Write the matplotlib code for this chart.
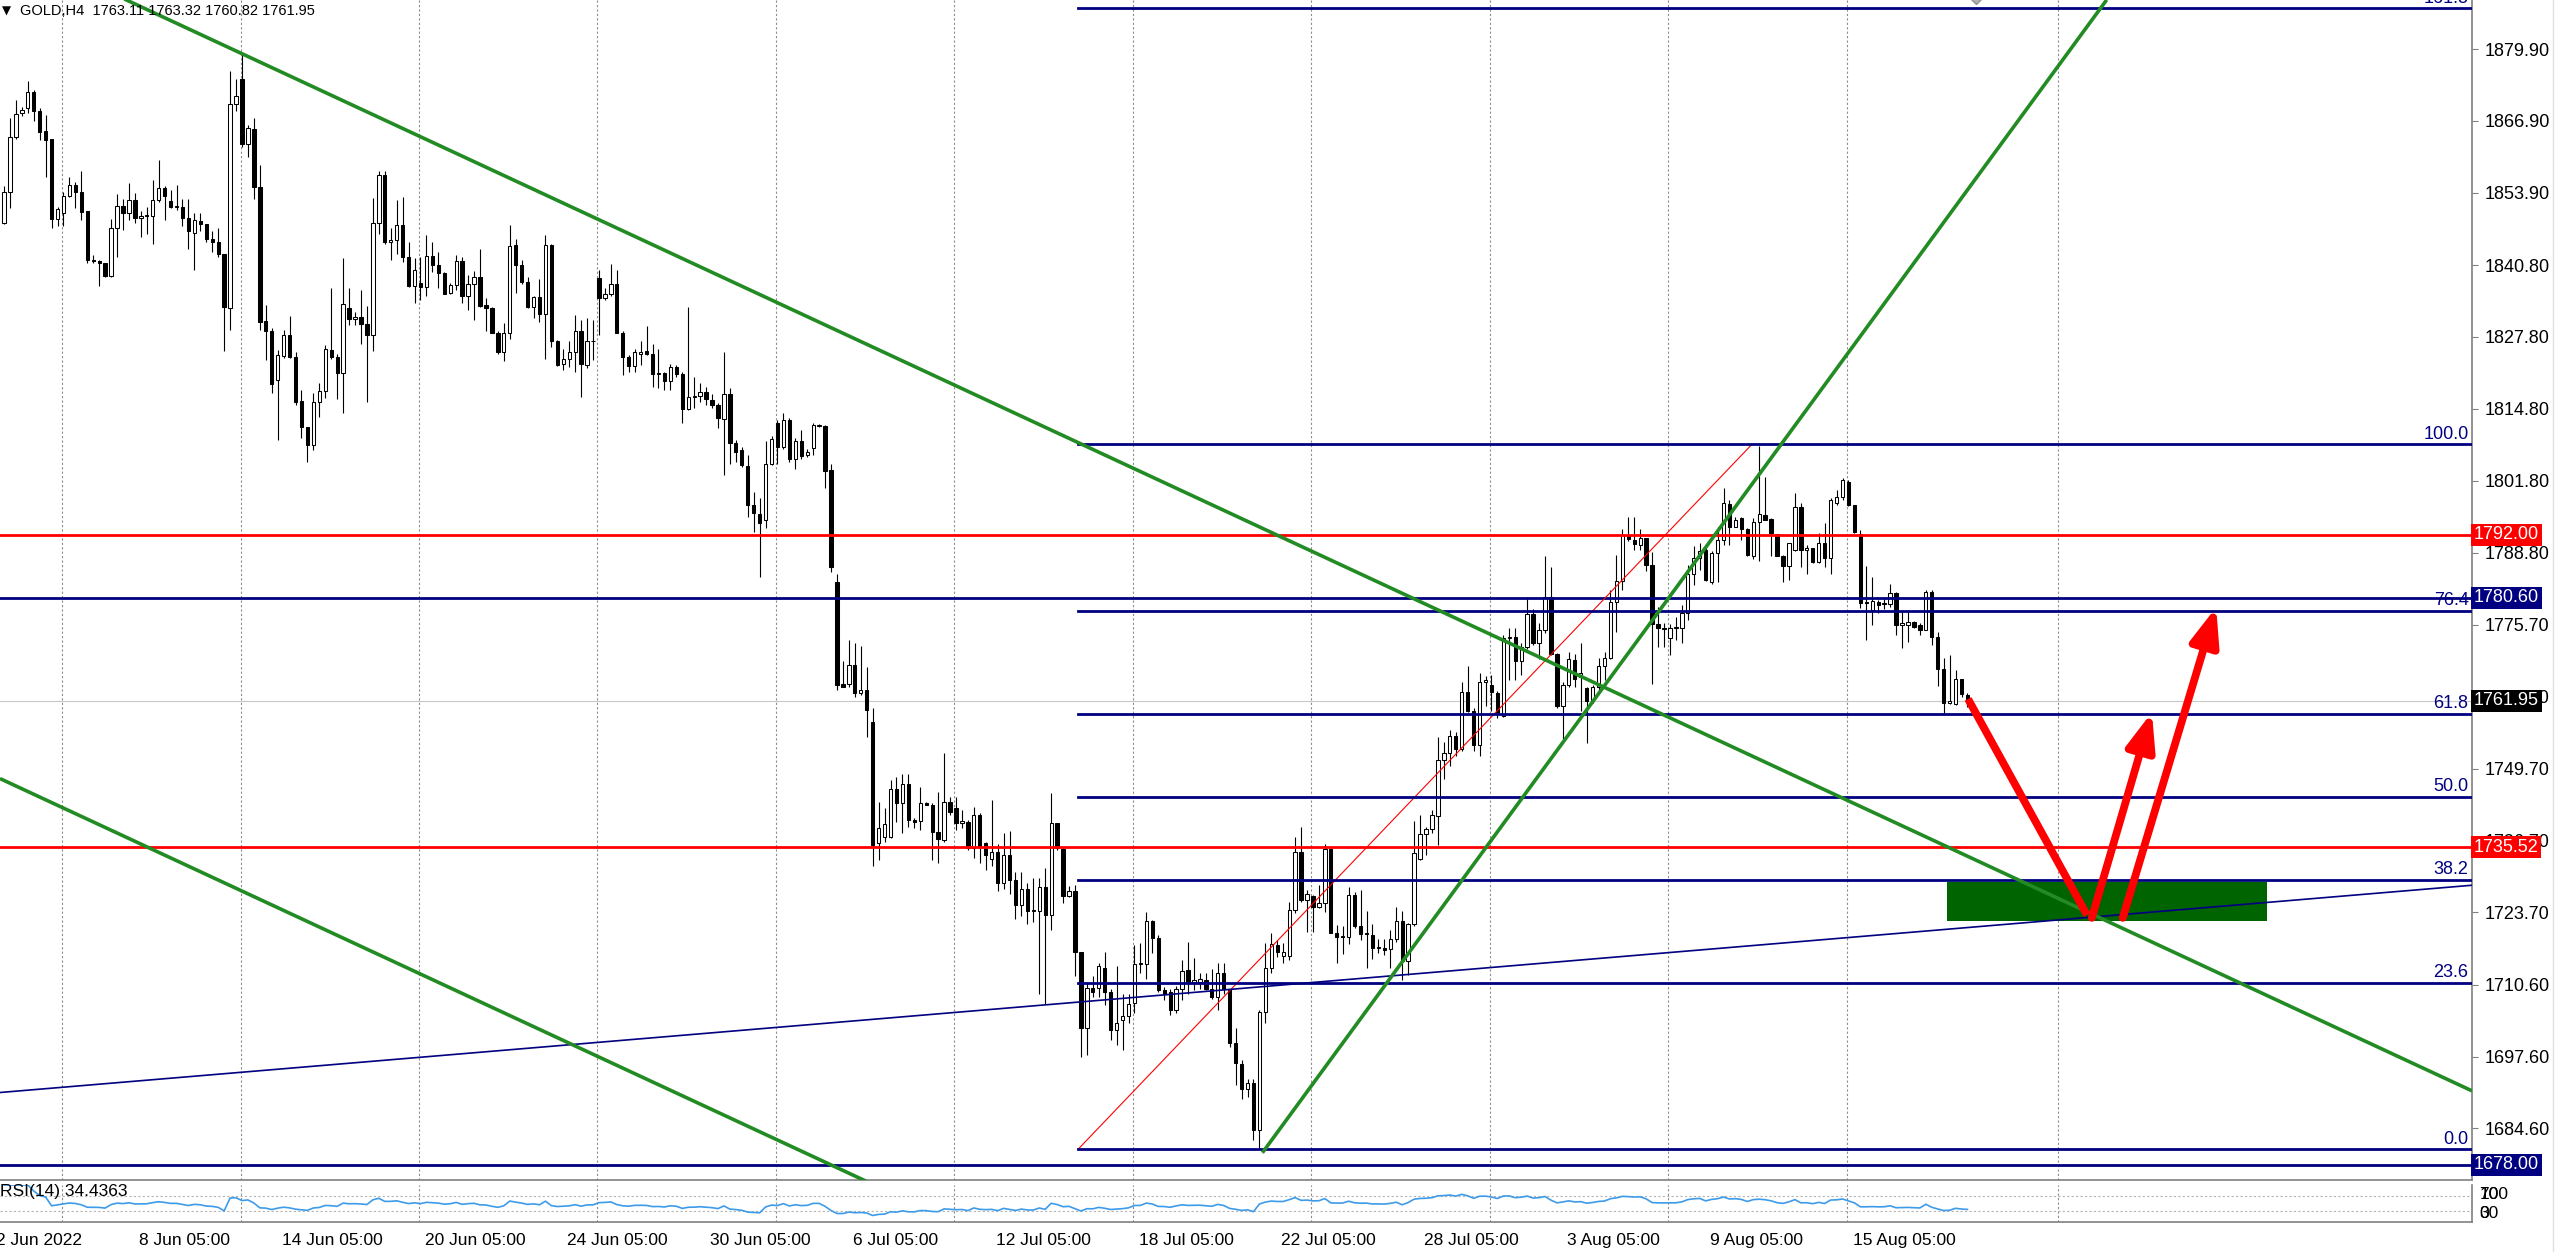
import numpy as np
import matplotlib.pyplot as plt
from matplotlib.patches import Rectangle, FancyArrowPatch, ArrowStyle
from matplotlib.transforms import blended_transform_factory

plt.rcParams['font.family'] = ['Liberation Sans', 'DejaVu Sans']

# GOLD H4 candles (bar 0 = leftmost visible bar)
opens = [
    1848.4, 1854.1, 1864.0, 1868.4, 1869.2, 1872.1, 1868.6, 1865.1, 1863.7, 1849.1,
    1850.3, 1853.3, 1855.3, 1854.1, 1850.6, 1841.8, 1841.6, 1841.1, 1838.8, 1847.5,
    1851.5, 1850.3, 1852.5, 1849.3, 1849.6, 1849.6, 1852.6, 1854.8, 1852.4, 1851.3,
    1851.4, 1849.3, 1846.7, 1848.8, 1848.2, 1845.5, 1845.0, 1842.9, 1833.0, 1870.0,
    1874.4, 1862.7, 1865.5, 1855.0, 1830.7, 1828.8, 1820.0, 1824.4, 1828.1, 1824.1,
    1816.3, 1811.6, 1808.2, 1816.1, 1818.1, 1825.4, 1824.1, 1821.2, 1833.0,
    1831.0, 1831.5, 1830.2, 1828.2, 1848.4, 1857.1, 1845.0, 1845.3, 1848.1, 1842.3,
    1837.0, 1837.6, 1836.9, 1842.4, 1840.8, 1839.4, 1835.7, 1837.2, 1841.6, 1835.2,
    1837.4, 1838.6, 1833.6, 1833.0, 1828.6, 1825.0, 1828.6, 1844.5, 1840.8, 1837.8,
    1833.2, 1835.0, 1832.0, 1844.4, 1827.0, 1823.0, 1823.9, 1825.0, 1828.9, 1822.8,
    1827.0, 1838.4, 1834.8, 1835.6, 1837.4, 1828.6, 1824.1, 1822.6, 1824.7, 1825.3,
    1824.7, 1821.1, 1821.3, 1819.9, 1822.3, 1821.1, 1814.7, 1816.9, 1817.1, 1817.9,
    1816.4, 1815.5, 1812.9, 1817.5, 1808.6, 1807.3, 1804.4, 1797.4, 1795.8, 1794.7,
    1804.9, 1812.2, 1807.9, 1812.7, 1805.8, 1808.9, 1806.4, 1807.8, 1811.7, 1811.7,
    1803.7, 1783.5, 1765.1, 1765.1, 1768.4, 1763.3, 1763.9, 1758.2, 1736.2, 1737.4,
    1737.3, 1746.1, 1743.4, 1747.0, 1740.4, 1740.3, 1743.4, 1743.1, 1738.3, 1736.7,
    1743.7, 1742.5, 1739.8, 1740.1, 1735.3, 1741.3, 1736.2, 1733.3,
    1734.7, 1729.0, 1734.0, 1729.5, 1725.0, 1728.0, 1724.0, 1724.0,
    1728.2, 1723.2, 1739.8, 1735.1, 1726.6, 1727.6, 1716.6, 1702.7, 1710.0, 1710.0,
    1713.7, 1709.3, 1702.5, 1704.2, 1704.9, 1707.3, 1714.3, 1714.3, 1722.2, 1719.0,
    1709.6, 1709.3, 1706.0, 1709.9, 1713.3, 1711.1, 1711.1, 1711.4, 1709.9, 1708.3,
    1712.8, 1709.8, 1700.0, 1696.3, 1691.8, 1692.9, 1684.4, 1705.7, 1713.6, 1717.7,
    1715.8, 1715.8, 1724.1, 1734.7, 1726.0, 1726.6, 1724.6, 1725.3, 1735.1, 1720.0,
    1719.2, 1719.2, 1726.9, 1721.3, 1719.8, 1719.6, 1717.2, 1717.2, 1717.0, 1718.9,
    1722.1, 1714.9, 1721.5, 1733.4, 1737.9, 1738.8, 1741.2, 1751.2, 1752.5, 1755.6,
    1753.3, 1763.6, 1760.2, 1753.9, 1765.3, 1764.9, 1763.3, 1759.3, 1773.4, 1773.6,
    1769.1, 1771.7, 1777.7, 1772.5, 1774.7, 1780.7, 1770.4, 1761.0, 1764.9, 1769.3,
    1766.2, 1764.2, 1761.9, 1764.4, 1768.3, 1769.8, 1779.8, 1783.6, 1792.0, 1791.1,
    1790.1, 1791.5, 1786.6, 1775.9, 1775.1, 1773.4,
    1775.1, 1775.1, 1777.9, 1784.9, 1787.8, 1789.3, 1783.5, 1788.7, 1791.1, 1797.6,
    1793.5, 1795.0, 1793.0, 1788.2, 1794.4, 1795.6, 1794.8, 1792.2, 1788.2, 1786.4,
    1789.3, 1797.1, 1789.3, 1789.6, 1787.1, 1790.6, 1787.8, 1797.8, 1798.9, 1801.6,
    1797.4, 1792.2, 1779.9, 1778.4, 1779.9, 1779.7, 1779.5, 1781.5, 1775.7, 1775.7,
    1776.3, 1775.7, 1774.8, 1781.7, 1773.6, 1767.8, 1761.5, 1761.4, 1765.9, 1763.11,
]
highs = [
    1855.2, 1867.4, 1870.6, 1869.5, 1874.2, 1872.5, 1869.2, 1868.0, 1863.7, 1851.4,
    1854.1, 1856.8, 1855.9, 1857.9, 1850.6, 1842.6, 1841.7, 1841.2, 1849.1, 1853.7,
    1852.7, 1855.6, 1853.9, 1850.6, 1851.4, 1856.2, 1859.8, 1855.2, 1854.4, 1855.3,
    1852.7, 1852.7, 1850.2, 1850.3, 1848.2, 1846.9, 1847.6, 1842.9, 1876.0, 1874.4,
    1879.1, 1866.1, 1867.4, 1858.9, 1833.6, 1829.4, 1825.4, 1829.1, 1831.6, 1825.1,
    1818.2, 1811.6, 1817.7, 1819.4, 1826.3, 1836.6, 1824.8, 1842.0, 1836.6,
    1832.4, 1836.3, 1833.4, 1852.9, 1857.8, 1857.8, 1847.5, 1852.6, 1853.2, 1845.0,
    1842.0, 1842.3, 1846.3, 1845.0, 1843.2, 1839.6, 1837.5, 1842.6, 1842.3, 1839.0,
    1839.8, 1843.7, 1834.8, 1833.3, 1828.8, 1830.4, 1848.1, 1845.5, 1841.7, 1838.6,
    1835.2, 1838.2, 1846.3, 1844.7, 1827.3, 1825.6, 1827.0, 1831.8, 1830.9, 1831.2,
    1830.9, 1839.9, 1836.6, 1841.0, 1840.0, 1828.8, 1824.5, 1825.6, 1827.0, 1829.7,
    1826.6, 1825.6, 1821.5, 1822.9, 1822.7, 1821.5, 1833.2, 1820.6, 1819.5, 1818.8,
    1817.5, 1815.9, 1825.0, 1818.5, 1809.2, 1807.9, 1806.4, 1799.8, 1798.6, 1808.9,
    1809.8, 1812.8, 1814.1, 1813.1, 1809.5, 1811.0, 1807.6, 1812.3, 1812.0, 1811.9,
    1804.9, 1785.0, 1769.1, 1773.0, 1772.5, 1771.8, 1768.1, 1760.6, 1743.7, 1742.5,
    1747.6, 1748.2, 1748.8, 1748.8, 1740.7, 1746.4, 1743.7, 1743.4, 1745.5, 1752.5,
    1744.6, 1744.6, 1742.2, 1740.4, 1742.8, 1741.6, 1736.5, 1744.0,
    1736.0, 1738.0, 1738.5, 1731.0, 1731.0, 1729.0, 1730.0, 1730.0,
    1731.8, 1745.3, 1739.8, 1735.3, 1728.5, 1728.6, 1716.6, 1711.1, 1712.1, 1714.5,
    1716.6, 1709.9, 1714.0, 1709.0, 1709.0, 1717.8, 1718.1, 1723.8, 1722.3, 1719.6,
    1710.2, 1709.9, 1710.4, 1715.1, 1718.4, 1715.4, 1712.8, 1712.8, 1713.4, 1714.6,
    1714.6, 1709.6, 1702.7, 1697.0, 1693.6, 1693.6, 1706.0, 1718.1, 1720.0, 1718.7,
    1718.1, 1725.6, 1737.4, 1739.2, 1727.7, 1726.8, 1728.6, 1736.1, 1735.3, 1721.4,
    1721.3, 1728.3, 1727.3, 1727.7, 1723.9, 1721.5, 1718.9, 1718.9, 1720.5, 1724.7,
    1723.9, 1721.7, 1740.3, 1741.4, 1739.2, 1742.2, 1755.5, 1754.6, 1756.7, 1756.3,
    1765.3, 1768.3, 1760.6, 1767.0, 1766.4, 1766.6, 1763.8, 1773.8, 1775.1, 1775.1,
    1772.5, 1780.7, 1778.5, 1776.0, 1788.1, 1786.2, 1770.6, 1765.3, 1770.8, 1770.4,
    1772.5, 1764.4, 1764.9, 1769.8, 1770.8, 1782.1, 1788.3, 1793.0, 1795.2, 1795.2,
    1793.0, 1791.5, 1788.9, 1778.9, 1776.0, 1775.8,
    1777.2, 1779.3, 1786.5, 1790.0, 1790.5, 1789.9, 1789.0, 1793.5, 1800.4, 1798.3,
    1795.3, 1795.2, 1793.2, 1795.0, 1808.0, 1802.5, 1795.0, 1792.2, 1788.4, 1790.6,
    1799.5, 1797.8, 1790.2, 1789.7, 1792.3, 1794.1, 1798.6, 1800.1, 1802.2, 1801.9,
    1797.4, 1792.9, 1786.4, 1784.4, 1780.2, 1780.5, 1783.1, 1781.7, 1778.1, 1778.4,
    1776.5, 1776.0, 1782.1, 1782.1, 1774.5, 1769.8, 1770.3, 1767.6, 1766.0, 1763.32,
]
lows = [
    1848.2, 1851.1, 1863.6, 1867.7, 1868.4, 1866.9, 1863.4, 1856.8, 1847.5, 1847.8,
    1847.8, 1853.2, 1851.1, 1849.0, 1841.1, 1841.1, 1837.0, 1838.7, 1838.6, 1842.3,
    1847.2, 1849.0, 1848.4, 1845.9, 1846.5, 1844.7, 1852.3, 1849.0, 1851.1, 1850.8,
    1847.8, 1843.8, 1840.0, 1846.9, 1845.0, 1843.2, 1842.3, 1825.2, 1829.1, 1868.7,
    1862.2, 1860.4, 1852.7, 1829.1, 1823.6, 1817.7, 1809.1, 1824.0, 1824.0, 1815.5,
    1809.5, 1805.2, 1807.4, 1813.4, 1816.7, 1823.9, 1816.5, 1814.0, 1830.0,
    1830.0, 1826.5, 1816.1, 1825.3, 1846.5, 1844.6, 1841.7, 1842.9, 1841.4, 1836.9,
    1833.9, 1834.5, 1835.2, 1839.6, 1836.6, 1835.6, 1835.6, 1836.3, 1833.9, 1832.7,
    1830.9, 1833.3, 1828.8, 1828.5, 1824.7, 1823.5, 1827.4, 1835.7, 1837.4, 1833.0,
    1831.2, 1830.6, 1823.9, 1826.0, 1822.5, 1821.8, 1822.4, 1821.5, 1817.0, 1822.1,
    1823.6, 1828.2, 1834.5, 1835.2, 1828.5, 1820.9, 1821.5, 1821.5, 1822.7, 1824.5,
    1818.8, 1818.5, 1818.2, 1818.2, 1820.6, 1812.2, 1814.6, 1814.9, 1816.0, 1815.5,
    1814.9, 1811.3, 1802.8, 1804.9, 1805.2, 1804.3, 1795.3, 1792.6, 1784.4, 1793.2,
    1804.6, 1804.9, 1807.6, 1805.2, 1804.0, 1805.8, 1806.0, 1806.4, 1811.6, 1800.4,
    1785.3, 1763.9, 1764.5, 1764.5, 1762.7, 1763.0, 1755.5, 1732.1, 1733.2, 1736.5,
    1737.1, 1740.1, 1738.0, 1739.2, 1738.9, 1738.6, 1743.1, 1733.2, 1732.6, 1736.5,
    1741.3, 1738.6, 1738.9, 1735.0, 1733.5, 1732.6, 1731.4, 1732.0,
    1727.5, 1728.0, 1727.0, 1722.5, 1723.0, 1721.5, 1722.0, 1709.0,
    1707.2, 1720.5, 1735.0, 1725.3, 1726.5, 1712.1, 1697.6, 1697.9, 1708.4, 1708.4,
    1706.9, 1700.6, 1699.7, 1698.8, 1703.6, 1705.4, 1712.7, 1711.7, 1716.3, 1709.3,
    1707.8, 1705.1, 1705.4, 1707.8, 1709.0, 1709.6, 1709.9, 1709.6, 1708.1, 1706.0,
    1709.0, 1699.4, 1692.4, 1690.0, 1690.3, 1682.5, 1681.0, 1703.6, 1712.7, 1715.7,
    1714.6, 1715.1, 1723.5, 1725.6, 1720.2, 1720.2, 1724.4, 1723.8, 1719.9, 1714.6,
    1716.2, 1717.9, 1720.9, 1718.7, 1713.6, 1715.3, 1716.4, 1716.0, 1713.6, 1718.3,
    1711.5, 1712.3, 1721.3, 1733.1, 1734.1, 1738.0, 1735.8, 1747.9, 1750.2, 1752.0,
    1752.9, 1759.9, 1752.9, 1752.0, 1761.0, 1760.2, 1758.9, 1759.1, 1765.7, 1765.7,
    1766.7, 1771.3, 1772.1, 1769.6, 1774.3, 1770.2, 1760.6, 1755.0, 1764.4, 1764.4,
    1760.2, 1754.4, 1761.5, 1763.8, 1765.7, 1769.6, 1774.4, 1782.1, 1790.9, 1789.2,
    1789.2, 1785.4, 1765.0, 1771.7, 1771.7, 1770.2,
    1773.0, 1772.4, 1776.6, 1782.9, 1785.6, 1783.7, 1783.1, 1783.5, 1790.2, 1790.2,
    1793.5, 1791.1, 1788.2, 1787.6, 1787.2, 1794.6, 1788.2, 1788.1, 1783.5, 1783.8,
    1789.0, 1786.2, 1785.0, 1786.9, 1786.9, 1786.2, 1785.0, 1797.4, 1798.3, 1797.2,
    1792.3, 1778.7, 1773.0, 1775.7, 1777.8, 1778.5, 1779.0, 1773.9, 1771.5, 1772.7,
    1775.1, 1773.9, 1774.7, 1772.1, 1764.6, 1759.7, 1761.4, 1761.2, 1762.7, 1760.82,
]
closes = [
    1854.1, 1864.0, 1868.1, 1868.9, 1872.1, 1868.6, 1864.9, 1863.4, 1849.1, 1850.9,
    1853.3, 1855.3, 1854.1, 1850.5, 1841.8, 1841.6, 1841.2, 1838.8, 1847.5, 1851.5,
    1850.3, 1852.5, 1849.3, 1849.6, 1849.8, 1852.6, 1854.7, 1853.3, 1851.3, 1851.4,
    1849.3, 1846.9, 1849.0, 1848.2, 1845.5, 1844.9, 1842.9, 1833.3, 1870.0, 1871.4,
    1862.7, 1865.7, 1855.0, 1830.6, 1828.8, 1819.3, 1824.5, 1828.1, 1824.2, 1816.1,
    1811.6, 1808.2, 1816.1, 1818.1, 1825.6, 1824.1, 1821.2, 1833.8, 1831.0,
    1831.5, 1830.2, 1828.2, 1848.4, 1857.1, 1845.0, 1845.3, 1848.1, 1842.3, 1837.0,
    1840.0, 1836.9, 1842.4, 1840.8, 1839.4, 1835.6, 1837.2, 1841.6, 1835.2, 1837.4,
    1838.6, 1833.4, 1833.0, 1828.6, 1825.0, 1828.6, 1844.3, 1840.8, 1837.8, 1833.2,
    1835.0, 1832.0, 1844.4, 1827.0, 1822.7, 1823.9, 1825.0, 1828.9, 1822.9, 1827.0,
    1827.1, 1834.8, 1835.6, 1837.4, 1828.6, 1824.1, 1822.6, 1825.0, 1825.1, 1824.7,
    1821.1, 1821.3, 1819.9, 1822.3, 1821.1, 1814.7, 1816.9, 1817.1, 1817.9, 1816.6,
    1815.5, 1813.1, 1817.5, 1808.6, 1807.0, 1804.6, 1797.4, 1795.9, 1794.2, 1804.9,
    1809.3, 1807.9, 1812.7, 1805.8, 1808.9, 1806.3, 1807.0, 1811.9, 1811.8, 1803.6,
    1786.2, 1764.8, 1764.5, 1768.4, 1763.3, 1763.9, 1760.3, 1735.9, 1738.9, 1739.7,
    1746.1, 1743.4, 1747.0, 1740.4, 1740.1, 1743.4, 1743.2, 1738.3, 1736.9, 1743.7,
    1741.9, 1739.8, 1740.3, 1735.3, 1741.3, 1735.6, 1734.1, 1734.7,
    1729.0, 1734.0, 1729.5, 1725.0, 1728.0, 1724.0, 1724.0, 1728.2,
    1723.2, 1739.8, 1735.3, 1726.6, 1727.6, 1716.6, 1702.7, 1710.0, 1709.3, 1714.0,
    1709.3, 1702.5, 1703.6, 1704.9, 1707.2, 1714.3, 1714.5, 1722.2, 1719.0, 1709.6,
    1709.0, 1706.0, 1709.9, 1713.1, 1711.1, 1711.4, 1711.6, 1709.9, 1708.4, 1712.8,
    1709.8, 1700.0, 1696.5, 1691.8, 1692.9, 1684.4, 1705.7, 1713.6, 1718.0, 1716.6,
    1716.6, 1724.2, 1734.7, 1725.9, 1727.1, 1724.6, 1725.3, 1735.1, 1720.0, 1719.3,
    1719.5, 1726.9, 1721.3, 1719.8, 1720.0, 1717.2, 1717.4, 1716.9, 1718.9, 1722.1,
    1714.9, 1721.5, 1734.5, 1737.9, 1738.8, 1741.4, 1751.2, 1752.5, 1755.6, 1753.3,
    1763.6, 1760.2, 1753.9, 1765.3, 1765.7, 1763.6, 1759.7, 1773.4, 1773.6, 1769.1,
    1771.7, 1777.7, 1772.5, 1774.7, 1780.7, 1770.4, 1761.0, 1764.9, 1769.6, 1765.9,
    1767.0, 1761.9, 1764.4, 1768.3, 1769.8, 1779.8, 1783.6, 1792.0, 1791.3, 1790.3,
    1791.5, 1786.6, 1775.9, 1775.1, 1774.9, 1775.1,
    1775.3, 1777.9, 1785.0, 1787.8, 1789.1, 1783.8, 1788.7, 1791.1, 1797.7, 1793.5,
    1794.6, 1793.0, 1788.4, 1794.4, 1795.8, 1794.7, 1792.4, 1788.2, 1786.4, 1790.5,
    1797.1, 1789.3, 1789.6, 1787.1, 1790.6, 1787.8, 1798.3, 1798.9, 1801.9, 1797.4,
    1792.6, 1779.6, 1779.6, 1780.1, 1779.3, 1779.5, 1781.5, 1775.7, 1776.0, 1776.3,
    1775.4, 1774.8, 1781.7, 1773.6, 1767.8, 1761.5, 1762.0, 1765.9, 1763.2, 1761.95,
]

# time axis
time_labels = ["2 Jun 2022", "8 Jun 05:00", "14 Jun 05:00", "20 Jun 05:00", "24 Jun 05:00",
               "30 Jun 05:00", "6 Jul 05:00", "12 Jul 05:00", "18 Jul 05:00", "22 Jul 05:00",
               "28 Jul 05:00", "3 Aug 05:00", "9 Aug 05:00", "15 Aug 05:00"]
time_label_bars = [-1, 23, 47, 71, 95, 119, 143, 167, 191, 215, 239, 263, 287, 311]
week_sep_bars = [9.75, 39.75, 69.75, 99.75, 129.75, 159.75, 189.75, 219.75, 249.75,
                 279.75, 309.75, 345.3]

price_ticks = [1879.9, 1866.9, 1853.9, 1840.8, 1827.8, 1814.8, 1801.8, 1788.8, 1775.7,
               1762.7, 1749.7, 1736.7, 1723.7, 1710.6, 1697.6, 1684.6]

# drawn objects
fib_low, fib_high = 1680.8, 1808.4
fib_anchor_bars = (180.5, 293.8)
fib_levels = [0.0, 23.6, 38.2, 50.0, 61.8, 76.4, 100.0, 161.8]
red_levels = [1792.00, 1735.52]
navy_levels = [1780.60, 1678.00]
last_price = 1761.95

green_upper = [(39.9, 1879.1), (414.8, 1691.4)]
green_lower = [(-0.67, 1747.9), (143.4, 1675.8)]
navy_slant = [(-0.67, 1691.1), (414.8, 1728.6)]
green_steep = [(211.5, 1680.2), (353.4, 1888.8)]

zone_bars = (326.6, 380.3)
zone_prices = (1722.1, 1729.2)
arrow_down = [(330.1, 1762.3), (350.1, 1723.2)]
arrow_up1 = [(350.9, 1722.7), (361.0, 1759.9)]
arrow_up2 = [(356.1, 1722.7), (371.8, 1778.9)]

# ---------------------------------------------------------------
W, H = 2560, 1252
X0, X1 = -0.672, 414.8
PLOT_R = 2472 / W
NAVY, RED, GREEN, GRID = '#000080', '#ff0000', '#238b23', '#8c8c8c'
FS = 13

o = np.array(opens); hi = np.array(highs); lo = np.array(lows); c = np.array(closes)
hi = np.maximum(hi, np.maximum(o, c))
lo = np.minimum(lo, np.minimum(o, c))
x = np.arange(len(c))

fig = plt.figure(figsize=(W / 100, H / 100), dpi=100)
ax = fig.add_axes([0, 1 - 1180 / H, PLOT_R, 1180 / H])
ax.set_xlim(X0, X1)
ax.set_ylim(1675.27, 1888.77)
for s in ['top', 'left']:
    ax.spines[s].set_visible(False)
for s in ['right', 'bottom']:
    ax.spines[s].set_color('#808080')
    ax.spines[s].set_linewidth(1.2)
ax.set_xticks([])
ax.yaxis.tick_right()
ax.set_yticks(price_ticks)
ax.set_yticklabels([f'{v:.2f}' for v in price_ticks])
ax.tick_params(axis='y', direction='out', length=4, width=0.8, color='#808080',
               pad=5, labelsize=FS)

for b in week_sep_bars:
    ax.axvline(b, color=GRID, lw=0.8, ls=(0, (2, 2)), zorder=0)

# zone rectangle
ax.add_patch(Rectangle((zone_bars[0], zone_prices[0]), zone_bars[1] - zone_bars[0],
                       zone_prices[1] - zone_prices[0], fc='#006400', ec='none', zorder=1))

# candles
ax.vlines(x, lo, hi, color='black', lw=0.8, zorder=2)
body_lo = np.minimum(o, c)
body_h = np.maximum(np.abs(c - o), 0.12)
bull = c >= o
ax.bar(x[bull], body_h[bull], bottom=body_lo[bull], width=0.56, color='white',
       edgecolor='black', lw=0.75, zorder=2.2)
ax.bar(x[~bull], body_h[~bull], bottom=body_lo[~bull], width=0.56, color='black',
       edgecolor='black', lw=0.75, zorder=2.2)

# current price line
ax.axhline(last_price, color='#c8c8c8', lw=0.8, zorder=1.5)

# horizontal levels
for p in red_levels:
    ax.axhline(p, color=RED, lw=2.0, zorder=3)
for p in navy_levels:
    ax.axhline(p, color=NAVY, lw=2.0, zorder=3)


def draw_line(pts, **kw):
    (xa, ya), (xb, yb) = pts
    k = (yb - ya) / (xb - xa)
    xs = np.array([X0, X1])
    ax.plot(xs, ya + k * (xs - xa), **kw)


draw_line(green_upper, color=GREEN, lw=2.6, zorder=3.2, solid_capstyle='butt')
draw_line(green_lower, color=GREEN, lw=2.6, zorder=3.2, solid_capstyle='butt')
draw_line(navy_slant, color=NAVY, lw=1.2, zorder=3.1)
(sx, sy), (ex, ey) = green_steep
ax.plot([sx, ex], [sy, ey], color=GREEN, lw=2.6, zorder=3.2, solid_capstyle='butt')

# fibonacci
fb0, fb1 = fib_anchor_bars
ax.plot([fb0, fb1], [fib_low, fib_high], color=RED, lw=0.8, zorder=3)
for lv in fib_levels:
    p = fib_low + lv / 100.0 * (fib_high - fib_low)
    ax.plot([fb0, X1], [p, p], color=NAVY, lw=2.0, zorder=3)
    ax.text(0.9986, p + 0.3, f'{lv:.1f}', transform=blended_transform_factory(ax.transAxes, ax.transData),
            ha='right', va='bottom', color=NAVY, fontsize=FS, zorder=4, clip_on=True)

# arrows
(ax0, ay0), (ax1_, ay1) = arrow_down
ax.plot([ax0, ax1_], [ay0, ay1], color=RED, lw=5.6, solid_capstyle='butt', zorder=5)
for (p0, p1) in [arrow_up1, arrow_up2]:
    arr = FancyArrowPatch(p0, p1, arrowstyle=ArrowStyle('-|>', head_length=1.6, head_width=0.62),
                          mutation_scale=14, color=RED, lw=5.6, shrinkA=0, shrinkB=0, zorder=5)
    ax.add_patch(arr)

ax.plot([331.4], [1889.6], marker='D', ms=9, color='#b0b0b0', mec='#909090', zorder=4, clip_on=True)

# price boxes on the right scale
bt = blended_transform_factory(ax.transAxes, ax.transData)
for p, col in [(1792.00, RED), (1780.60, NAVY), (last_price, 'black'), (1735.52, RED), (1678.00, NAVY)]:
    ax.text(1.0008, p, f'{p:.2f}', transform=bt, ha='left', va='center', color='white',
            fontsize=FS, zorder=10, clip_on=False,
            bbox=dict(boxstyle='square,pad=0.14', fc=col, ec='none'))

# header
fig.text(2 / W, 1 - 11 / H, '\u25bc', fontsize=8.5, va='center', ha='left', family=['DejaVu Sans'])
fig.text(20 / W, 1 - 11 / H, 'GOLD,H4  1763.11 1763.32 1760.82 1761.95', fontsize=10.5,
         va='center', ha='left')

# RSI panel
n = 14
d = np.diff(c)
up = np.clip(d, 0, None)
dn = np.clip(-d, 0, None)
au = np.zeros(len(c)); ad = np.zeros(len(c))
au[1], ad[1] = up[0], dn[0]
for i in range(2, len(c)):
    k = min(i, n)
    au[i] = (au[i - 1] * (k - 1) + up[i - 1]) / k
    ad[i] = (ad[i - 1] * (k - 1) + dn[i - 1]) / k
rsi = 100 - 100 / (1 + au / np.maximum(ad, 1e-9))
rsi[0] = rsi[1]

rax = fig.add_axes([0, 1 - 1222 / H, PLOT_R, 37 / H])
rax.set_xlim(X0, X1)
rax.set_ylim(0, 100)
rax.set_xticks([]); rax.set_yticks([])
for s in ['top', 'left']:
    rax.spines[s].set_visible(False)
for s in ['right', 'bottom']:
    rax.spines[s].set_color('#808080')
    rax.spines[s].set_linewidth(1.2)
for b in week_sep_bars:
    rax.axvline(b, color=GRID, lw=0.8, ls=(0, (2, 2)), zorder=0)
for lv in (70, 30):
    rax.axhline(lv, color='#b4b4b4', lw=0.8, ls=(0, (2, 2)), zorder=0)
rax.plot(x, rsi, color='#3d9be9', lw=1.2, zorder=2)
rax.text(0.0, 0.82, 'RSI(14) 34.4363', transform=rax.transAxes, fontsize=12.5,
         va='center', ha='left', zorder=3)
rt = blended_transform_factory(rax.transAxes, rax.transData)
for lab, yv in [('100', 74), ('70', 74), ('30', 24), ('0', 24)]:
    rax.text(1.003, yv, lab, transform=rt, fontsize=12.5, va='center', ha='left', clip_on=False)

# time labels
tt = blended_transform_factory(rax.transData, rax.transAxes)
for b, lab in zip(time_label_bars, time_labels):
    rax.text(b - 0.3, -0.5, lab, transform=tt, fontsize=12.5, va='center', ha='left', clip_on=False)

# right-side scrollbar hint
fig.add_artist(plt.Line2D([2553 / W, 2553 / W], [0, 1], color='#e0e0e0', lw=1.0))

fig.savefig('out.png', dpi=100)
plt.close(fig)
